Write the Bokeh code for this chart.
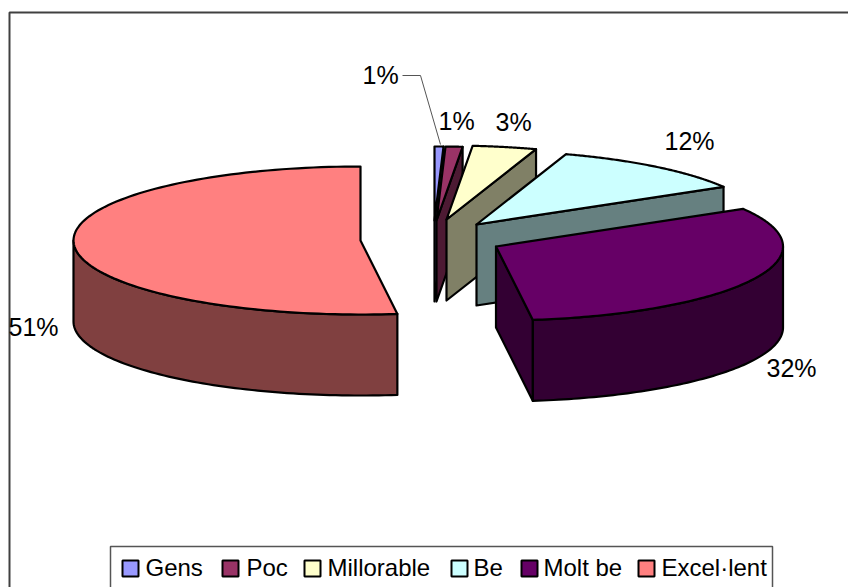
import numpy as np
from bokeh.plotting import figure
from bokeh.models import Range1d
from bokeh.embed import file_html
from bokeh.resources import INLINE
from bokeh.core.properties import value

categories = ["Gens", "Poc", "Millorable", "Be", "Molt be", "Excel·lent"]
shares = [0.5, 0.95, 3.6, 11.45, 31.45, 52.05]
labels = ["1%", "1%", "3%", "12%", "32%", "51%"]
top_colors = ["#9999FF", "#993366", "#FFFFCC", "#CCFFFF", "#660066", "#FF8080"]
side_colors = ["#4D4D80", "#4D1A33", "#808066", "#668080", "#330033", "#804040"]

# layout of the exploded 3-D pie, in page pixels
apex_x = [434, 436, 446, 476, 495.5, 360]
apex_y = [220, 220, 219, 224, 246, 240]
label_x = [362, 438, 495, 664, 766, 8]
label_y = [74, 120, 121, 140, 367, 326]
RX, RY, DEPTH = 287, 74, 81

# layout of the legend
swatch_x = [122, 222, 304, 451, 521, 638]
entry_x = [145, 246, 327, 473, 543, 661]
SWATCH = 16

W, H = 848, 587
p = figure(width=W, height=H, output_backend="svg", toolbar_location=None,
           x_range=Range1d(0, W), y_range=Range1d(H, 0),
           x_axis_location=None, y_axis_location=None, min_border=0,
           outline_line_color=None, background_fill_color="white",
           border_fill_color="white")
p.grid.visible = False

# chart frame
p.line([9, 9, W], [H, 12, 12], line_color="#404040", line_width=2)

edges = np.cumsum([0] + shares) / 100 * 2 * np.pi
STROKE = dict(line_color="black", line_width=2.2, line_join="round")
for i in range(len(shares)):
    t0, t1 = edges[i], edges[i + 1]
    cx, cy = apex_x[i], apex_y[i]
    ell = lambda t: (cx + RX * np.sin(t), cy - RY * np.cos(t))
    for t, show in ((t0, np.sin(t0) < -1e-6), (t1, np.sin(t1) > 1e-6)):
        if show:
            ex, ey = ell(t)
            p.patch([cx, ex, ex, cx], [cy, ey, ey + DEPTH, cy + DEPTH],
                    fill_color=side_colors[i], **STROKE)
    a, b = max(t0, np.pi / 2), min(t1, 3 * np.pi / 2)
    if b > a:
        tt = np.linspace(a, b, 80)
        wx, wy = ell(tt)
        p.patch(np.r_[wx, wx[::-1]], np.r_[wy, wy[::-1] + DEPTH],
                fill_color=side_colors[i], **STROKE)
    tt = np.linspace(t0, t1, 120)
    tx, ty = ell(tt)
    p.patch(np.r_[cx, tx], np.r_[cy, ty], fill_color=top_colors[i], **STROKE)

p.line([402, 420, 440], [75, 75, 144], line_color="#555555", line_width=1)

p.text(label_x, label_y, text=labels, text_font=value("Liberation Sans"),
       text_font_size="25px", text_color="black", text_baseline="middle", text_align="left")

# legend
p.line([110, 110, 772, 772], [H, 546, 546, H], line_color="#555555", line_width=1.5)
p.quad(left=swatch_x, right=[x + SWATCH for x in swatch_x], top=[560] * 6, bottom=[576] * 6,
       fill_color=top_colors, line_color="black", line_width=2)
p.text(entry_x, [567] * 6, text=categories, text_font=value("Liberation Sans"),
       text_font_size="24px", text_color="black", text_baseline="middle", text_align="left")

open("out.html", "w").write(file_html(p, INLINE))
